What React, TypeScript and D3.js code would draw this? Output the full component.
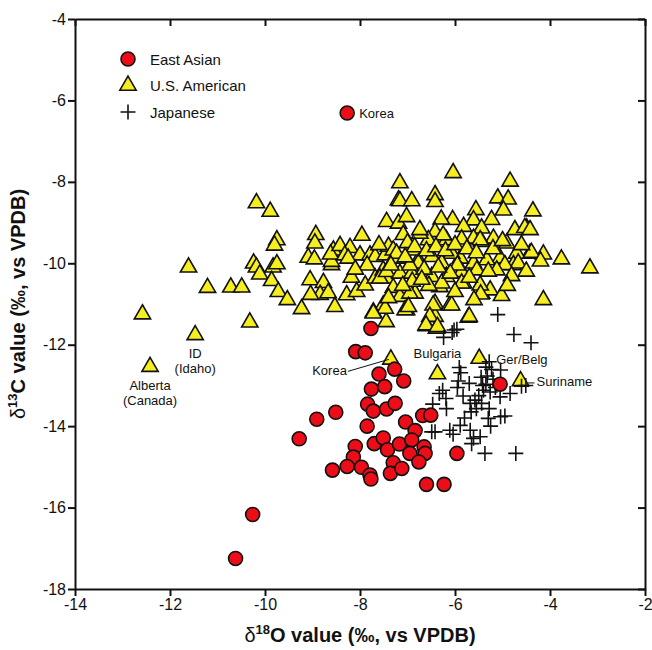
import React, { useRef, useEffect } from 'react';
import * as d3 from 'd3';

// delta18O, delta13C pairs
const eastAsian: [number, number][] = [
  [-8.27, -6.31], [-10.62, -17.25], [-10.26, -16.17], [-9.28, -14.31], [-8.91, -13.83],
  [-8.51, -13.66], [-8.58, -15.08], [-8.09, -12.17], [-7.89, -12.2], [-7.77, -11.6],
  [-7.6, -12.72], [-7.27, -12.6], [-7.08, -12.89], [-7.76, -13.09], [-7.48, -13.03],
  [-7.84, -13.46], [-7.72, -13.63], [-7.44, -13.58], [-7.26, -13.44], [-7.85, -14.0],
  [-8.1, -14.5], [-7.7, -14.43], [-7.51, -14.29], [-7.42, -14.58], [-7.17, -14.44],
  [-7.04, -13.9], [-6.84, -14.11], [-6.68, -13.74], [-6.51, -13.73], [-6.91, -14.34],
  [-6.65, -14.51], [-6.63, -14.67], [-6.95, -14.67], [-8.14, -14.76], [-8.27, -14.99],
  [-7.97, -15.01], [-7.79, -15.2], [-7.77, -15.3], [-7.3, -14.9], [-7.36, -15.16],
  [-7.12, -15.04], [-6.76, -14.88], [-6.6, -15.43], [-6.23, -15.43], [-5.96, -14.67],
  [-5.05, -12.97],
];

const usAmerican: [number, number][] = [
  [-12.58, -11.25], [-12.42, -12.54], [-11.47, -11.76], [-10.32, -11.45], [-11.61, -10.1],
  [-11.21, -10.6], [-10.72, -10.59], [-10.49, -10.59],
  [-10.18, -8.52], [-9.89, -8.73], [-9.75, -9.43], [-9.8, -9.56], [-10.24, -10.0],
  [-10.18, -10.1], [-10.11, -10.27], [-9.83, -10.1], [-9.75, -10.02], [-9.86, -10.43],
  [-9.72, -10.7], [-9.53, -10.9], [-9.23, -11.12],
  [-8.93, -9.3], [-9.09, -9.86], [-8.96, -9.9], [-9.05, -10.41], [-8.77, -10.48],
  [-8.84, -10.77], [-9.04, -10.77], [-8.67, -10.73], [-8.6, -10.04], [-8.53, -11.07],
  [-8.95, -9.51], [-8.6, -9.96], [-8.56, -9.68], [-8.62, -9.78],
  [-8.42, -9.57], [-8.21, -9.62], [-7.96, -9.32], [-8.0, -9.8], [-8.32, -9.8],
  [-8.25, -9.88], [-8.18, -10.35], [-8.28, -10.78], [-8.07, -10.7], [-7.89, -10.54],
  [-7.79, -9.8], [-7.68, -9.84], [-7.68, -10.37], [-7.51, -10.17], [-7.44, -10.37],
  [-7.3, -10.6], [-7.51, -11.03], [-7.72, -11.2], [-7.45, -11.44], [-7.47, -11.11],
  [-7.58, -10.37], [-7.44, -10.21], [-7.72, -11.23], [-7.47, -9.8], [-7.4, -9.59],
  [-7.16, -8.03], [-7.19, -8.45], [-7.44, -8.98], [-7.19, -9.02], [-7.09, -9.3],
  [-7.16, -8.47], [-6.91, -8.47], [-7.02, -8.86], [-6.42, -8.32], [-6.42, -8.49],
  [-6.04, -7.78], [-4.84, -7.99], [-5.1, -8.4], [-4.88, -8.43], [-4.98, -8.7],
  [-4.36, -8.72], [-5.56, -8.69], [-6.05, -8.93], [-6.29, -8.92], [-5.23, -8.93],
  [-5.61, -8.94], [-4.49, -9.14], [-4.74, -9.18], [-5.82, -9.1], [-5.44, -9.14],
  [-4.53, -9.13], [-4.42, -9.18],
  [-7.3, -9.68], [-7.19, -9.88], [-7.23, -9.76], [-6.42, -9.23], [-6.18, -9.43],
  [-6.56, -9.43], [-6.74, -9.27], [-6.74, -9.18], [-6.25, -9.31], [-5.19, -9.39],
  [-5.61, -9.39], [-5.86, -9.41], [-5.44, -9.47], [-5.47, -9.43], [-4.91, -9.51],
  [-4.14, -9.78], [-4.42, -9.76], [-4.7, -9.76], [-4.39, -9.74], [-3.76, -9.9],
  [-5.05, -9.88], [-4.77, -10.04], [-4.67, -10.0], [-4.95, -10.04], [-5.33, -9.92],
  [-5.61, -10.0], [-5.89, -9.88], [-6.07, -9.76], [-6.28, -10.0], [-6.49, -9.84],
  [-6.77, -9.92], [-6.88, -9.68], [-6.77, -10.0], [-7.16, -10.25], [-6.91, -10.25],
  [-6.84, -10.74], [-7.02, -11.15], [-7.16, -10.82], [-6.49, -10.33], [-6.42, -10.99],
  [-6.11, -11.03], [-6.42, -11.31], [-6.6, -11.54], [-6.32, -10.58], [-6.18, -10.33],
  [-5.82, -10.49], [-5.86, -10.21], [-5.54, -10.17], [-5.44, -10.74], [-5.26, -10.66],
  [-5.02, -10.8], [-4.81, -10.31], [-5.12, -10.17], [-5.72, -11.33], [-4.14, -10.9],
  [-3.16, -10.12], [-5.47, -10.54], [-6.28, -10.49], [-5.86, -10.49], [-6.95, -10.74],
  [-7.05, -11.15], [-6.07, -11.03], [-6.46, -11.03], [-6.39, -11.6], [-6.53, -11.31],
  [-5.46, -10.76], [-6.98, -11.07], [-6.61, -11.52], [-6.37, -11.56], [-5.7, -11.31],
  [-7.0, -9.5], [-6.85, -9.6], [-6.6, -9.7], [-6.4, -9.6], [-6.2, -9.7],
  [-6.0, -9.55], [-5.75, -9.65], [-5.95, -10.05], [-6.65, -10.15], [-6.95, -10.05],
  [-7.05, -9.85], [-6.55, -10.55], [-6.1, -10.25], [-5.7, -10.35], [-5.3, -10.2],
  [-5.2, -9.65], [-5.0, -9.45], [-4.6, -9.55], [-6.9, -10.45], [-7.1, -10.55],
  [-6.35, -10.1], [-5.55, -9.75], [-6.7, -10.4], [-7.35, -10.05], [-7.6, -9.55],
  [-7.85, -10.05], [-8.1, -10.15], [-7.4, -10.85], [-6.0, -10.7], [-5.6, -10.9],
  [-4.9, -10.55], [-4.5, -10.2], [-4.2, -9.95],
  [-6.37, -12.72], [-5.49, -12.34], [-4.62, -12.89], [-7.35, -12.36],
];

const japanese: [number, number][] = [
  [-5.1, -11.26], [-4.76, -11.75], [-4.4, -11.95], [-5.96, -11.62], [-6.06, -11.7],
  [-6.24, -11.82], [-6.02, -11.64], [-5.91, -12.56], [-5.88, -12.69], [-5.28, -12.42],
  [-5.23, -12.61], [-5.04, -12.62], [-5.45, -12.8], [-5.32, -12.77], [-5.35, -12.97],
  [-5.93, -12.89], [-6.26, -13.12], [-6.33, -13.2], [-6.19, -13.32], [-5.83, -13.26],
  [-5.58, -13.36], [-5.4, -13.12], [-5.26, -13.16], [-5.05, -13.28], [-4.84, -13.2],
  [-4.6, -13.02], [-4.51, -13.0], [-5.68, -13.44], [-5.55, -13.57], [-5.44, -13.44],
  [-5.28, -13.57], [-5.66, -13.65], [-5.04, -13.77], [-4.95, -13.75], [-5.3, -13.81],
  [-6.18, -13.57], [-6.47, -13.46], [-5.89, -13.98], [-6.11, -14.1], [-6.04, -14.2],
  [-6.42, -14.14], [-6.49, -14.14], [-5.68, -14.1], [-5.61, -14.3], [-5.47, -14.26],
  [-5.65, -14.43], [-5.37, -14.67], [-4.72, -14.67], [-5.35, -12.55], [-5.2, -12.85],
  [-5.42, -13.0], [-5.15, -13.05], [-5.5, -13.25], [-5.7, -12.95], [-5.95, -13.05],
  [-5.8, -13.8], [-5.25, -14.0],
];

const xTicks = [-14, -12, -10, -8, -6, -4, -2];
const yTicks = [-18, -16, -14, -12, -10, -8, -6, -4];
const legendNames = ['East Asian', 'U.S. American', 'Japanese'];

const W = 652;
const H = 650;
const FONT = 'Liberation Sans, Arial, Helvetica, sans-serif';

export default function App() {
  const ref = useRef<SVGSVGElement>(null);

  useEffect(() => {
    const svg = d3.select(ref.current);
    svg.selectAll('*').remove();

    const x = d3.scaleLinear().domain([-14, -2]).range([75, 645]);
    const y = d3.scaleLinear().domain([-18, -4]).range([589, 19]);

    svg.append('rect').attr('width', W).attr('height', H).attr('fill', '#fff');

    const axisStyle = (g: any) => {
      g.select('.domain').attr('stroke', '#111').attr('stroke-width', 2);
      g.selectAll('.tick line').attr('stroke', '#111').attr('stroke-width', 2);
      g.selectAll('text').attr('font-family', FONT).attr('font-size', 16).attr('fill', '#111');
    };

    // frame: top and right carry inward ticks
    svg.append('g').attr('transform', `translate(0,${y(-4)})`)
      .call(d3.axisBottom(x).tickValues(xTicks).tickSize(7).tickSizeOuter(0).tickFormat(() => ''))
      .call(axisStyle);
    svg.append('g').attr('transform', `translate(${x(-2)},0)`)
      .call(d3.axisLeft(y).tickValues(yTicks).tickSize(7).tickSizeOuter(0).tickFormat(() => ''))
      .call(axisStyle);

    svg.append('g').attr('transform', `translate(0,${y(-18)})`)
      .call(d3.axisBottom(x).tickValues(xTicks).tickSize(7).tickSizeOuter(0).tickPadding(3).tickFormat(d => `${d}`))
      .call(axisStyle);
    svg.append('g').attr('transform', `translate(${x(-14)},0)`)
      .call(d3.axisLeft(y).tickValues(yTicks).tickSize(7).tickSizeOuter(0).tickPadding(2).tickFormat(d => `${d}`))
      .call(axisStyle);

    // axis titles
    const xt = svg.append('text')
      .attr('x', (x(-14) + x(-2)) / 2).attr('y', 642)
      .attr('text-anchor', 'middle').attr('font-family', FONT)
      .attr('font-size', 20).attr('font-weight', 'bold').attr('fill', '#111');
    xt.append('tspan').attr('font-weight', 'normal').text('δ');
    xt.append('tspan').attr('font-size', 13).attr('dy', -8).text('18');
    xt.append('tspan').attr('dy', 8).text('O value (‰, vs VPDB)');

    const yt = svg.append('text')
      .attr('transform', `translate(25,${(y(-4) + y(-18)) / 2}) rotate(-90)`)
      .attr('text-anchor', 'middle').attr('font-family', FONT)
      .attr('font-size', 20).attr('font-weight', 'bold').attr('fill', '#111');
    yt.append('tspan').attr('font-weight', 'normal').text('δ');
    yt.append('tspan').attr('font-size', 13).attr('dy', -8).text('13');
    yt.append('tspan').attr('dy', 8).text('C value (‰, vs VPDB)');

    const triangle = d3.symbol().type(d3.symbolTriangle).size(115);
    const plus = 'M-7.5,0H7.5M0,-7.5V7.5';

    svg.append('g').selectAll('path').data(usAmerican).join('path')
      .attr('d', triangle)
      .attr('transform', d => `translate(${x(d[0])},${y(d[1])})`)
      .attr('fill', '#f6ee1e').attr('stroke', '#111').attr('stroke-width', 1.6);

    svg.append('g').selectAll('path').data(japanese).join('path')
      .attr('d', plus)
      .attr('transform', d => `translate(${x(d[0])},${y(d[1])})`)
      .attr('fill', 'none').attr('stroke', '#111').attr('stroke-width', 1.6);

    svg.append('g').selectAll('circle').data(eastAsian).join('circle')
      .attr('cx', d => x(d[0])).attr('cy', d => y(d[1])).attr('r', 7)
      .attr('fill', '#ec0d18').attr('stroke', '#111').attr('stroke-width', 1.6);

    // legend
    const lg = svg.append('g').attr('font-family', FONT).attr('font-size', 15).attr('fill', '#111');
    legendNames.forEach((name, i) => {
      const cy = 59 + i * 26.5;
      if (i === 0) {
        lg.append('circle').attr('cx', 128).attr('cy', cy).attr('r', 7)
          .attr('fill', '#ec0d18').attr('stroke', '#111').attr('stroke-width', 1.6);
      } else if (i === 1) {
        lg.append('path').attr('d', triangle).attr('transform', `translate(128,${cy})`)
          .attr('fill', '#f6ee1e').attr('stroke', '#111').attr('stroke-width', 1.6);
      } else {
        lg.append('path').attr('d', plus).attr('transform', `translate(128,${cy})`)
          .attr('fill', 'none').attr('stroke', '#111').attr('stroke-width', 1.6);
      }
      lg.append('text').attr('x', 150).attr('y', cy + 5.5).text(name);
    });

    // annotations
    const ann = svg.append('g').attr('font-family', FONT).attr('font-size', 13).attr('fill', '#111');
    const note = (lines: string[], px: number, py: number, anchor: string) => {
      lines.forEach((t, i) => {
        ann.append('text').attr('x', px).attr('y', py + i * 15).attr('text-anchor', anchor).text(t);
      });
    };
    note(['Korea'], x(-8.27) + 12, y(-6.31) + 5, 'start');
    note(['ID', '(Idaho)'], x(-11.47), y(-11.76) + 23, 'middle');
    note(['Alberta', '(Canada)'], x(-12.42), y(-12.54) + 23, 'middle');
    note(['Bulgaria'], x(-6.37), y(-12.72) - 16, 'middle');
    note(['Ger/Belg'], x(-5.49) + 17, y(-12.34) + 5, 'start');
    note(['Suriname'], x(-4.62) + 16, y(-12.89) + 5, 'start');
    note(['Korea'], x(-7.35) - 44, y(-12.36) + 16, 'end');
    ann.append('line')
      .attr('x1', x(-7.35) - 43).attr('y1', y(-12.36) + 12)
      .attr('x2', x(-7.35) - 2).attr('y2', y(-12.36))
      .attr('stroke', '#111').attr('stroke-width', 1);
    ann.append('line')
      .attr('x1', x(-4.62) + 7).attr('y1', y(-12.89) + 2)
      .attr('x2', x(-4.62) + 14).attr('y2', y(-12.89) + 2)
      .attr('stroke', '#111').attr('stroke-width', 1);
  }, []);

  return (
    <svg ref={ref} width={W} height={H} style={{ position: 'absolute', left: 0, top: 0 }} />
  );
}
